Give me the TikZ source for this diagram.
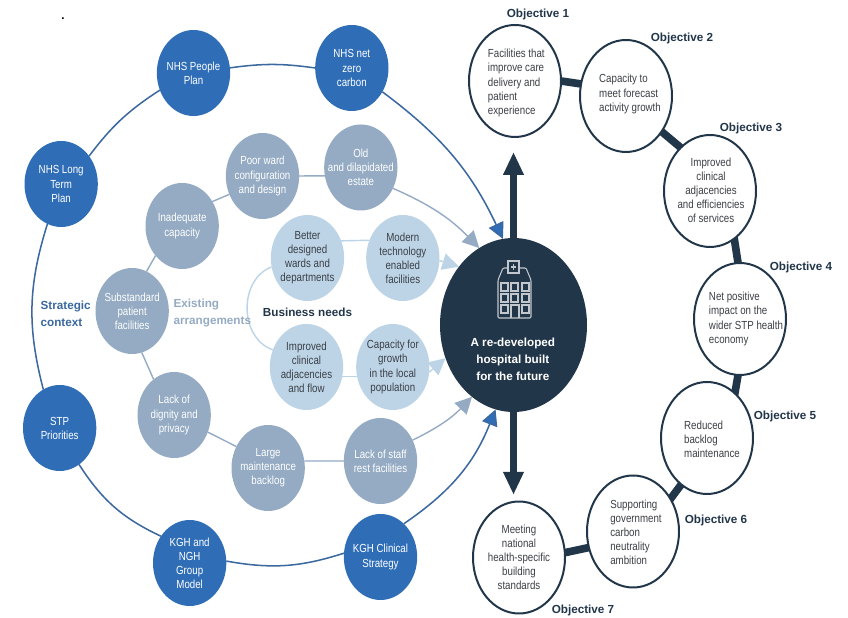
\documentclass[tikz,border=0pt]{standalone}
\usepackage{fontspec}
\setmainfont{Liberation Sans}
\newfontfamily\narrowfont[FakeStretch=0.83]{Liberation Sans}
\usepackage{xcolor}
\usetikzlibrary{shapes.geometric, arrows.meta, positioning, backgrounds}
\definecolor{contextblue}{HTML}{2F6EB7}
\definecolor{existgrey}{HTML}{94ABC3}
\definecolor{needlight}{HTML}{BDD4E7}
\definecolor{hubnavy}{HTML}{22364A}
\definecolor{ringblue}{HTML}{3A689F}
\definecolor{bodytext}{HTML}{3A3F45}
\tikzset{
    ball/.style={
        ellipse,
        minimum width=2.2cm,
        minimum height=2.58cm,
        inner sep=-12pt,
        outer sep=0pt,
        align=center,
        font=\narrowfont\fontsize{10}{12}\selectfont
    },
    contextball/.style={
        ball,
        fill=contextblue,
        text=white
    },
    existball/.style={
        ball,
        fill=existgrey,
        text=white
    },
    needball/.style={
        ball,
        fill=needlight,
        text=bodytext
    },
    hubball/.style={
        ellipse,
        fill=hubnavy,
        outer sep=0pt,
        minimum width=4.41cm,
        minimum height=5.22cm
    },
    objball/.style={
        ellipse,
        draw=hubnavy,
        line width=1.7pt,
        outer sep=0pt,
        fill=white,
        minimum width=2.76cm,
        minimum height=3.36cm
    },
    objtext/.style={
        align=left,
        inner sep=0pt,
        text=bodytext,
        font=\narrowfont\fontsize{10}{12}\selectfont
    },
    objlabel/.style={
        inner sep=0pt,
        text=hubnavy,
        font=\fontsize{10}{12}\selectfont\bfseries
    },
    headtext/.style={
        inner sep=0pt,
        align=left,
        font=\fontsize{10}{14.4}\selectfont\bfseries
    },
    contextwire/.style={
        draw=ringblue,
        line width=1.3pt
    },
    existwire/.style={
        draw=existgrey,
        line width=1.2pt
    },
    needwire/.style={
        draw=needlight,
        line width=1.2pt
    },
    contextarrow/.style={
        contextwire,
        -{Triangle[length=0.48cm,width=0.48cm,fill=contextblue]}
    },
    existarrow/.style={
        existwire,
        -{Triangle[length=0.5cm,width=0.5cm]}
    },
    needarrow/.style={
        needwire,
        -{Triangle[length=0.5cm,width=0.5cm]}
    },
    objlink/.style={
        draw=hubnavy,
        line width=0.23cm,
        shorten <=-3pt,
        shorten >=-3pt
    },
    hubarrow/.style={
        draw=hubnavy,
        line width=0.21cm,
        -{Triangle[length=0.69cm,width=0.58cm]}
    },
    iconline/.style={
        draw=white!72!hubnavy,
        line width=0.9pt
    }
}

\begin{document}
\begin{tikzpicture}
\useasboundingbox (0,0) rectangle (25.44,18.54);

\node[font=\fontsize{10}{12}\selectfont\bfseries, anchor=base] (speck) at (1.89,17.94) {.};

% Hub
\node[hubball] (hub) at (15.405,8.79) {};
\node[headtext, align=center, text=white, xshift=-0.02cm, yshift=-1.02cm] (hubtext) at (hub) {A re-developed\\hospital built\\for the future};

% Strategic context ring
\node[contextball, left=1.545cm of hub, yshift=7.71cm] (netzero) {NHS net\\zero\\carbon};
\node[contextball, left=2.55cm of netzero, yshift=-0.15cm] (people) {NHS People\\Plan};
\node[contextball, left=1.77cm of people, yshift=-3.33cm] (longterm) {NHS Long\\Term\\Plan};
\node[contextball, below=4.74cm of longterm, xshift=-0.045cm] (stp) {STP\\Priorities};
\node[contextball, below=1.47cm of stp, xshift=3.9cm] (group) {KGH and\\NGH\\Group\\Model};
\node[contextball, right=3.525cm of group, yshift=0.18cm] (clinical) {KGH Clinical\\Strategy};

\draw[contextwire] (longterm.45) to[bend left=10] (people.207);
\draw[contextwire] (people.8) to[bend left=8] (netzero.180);
\draw[contextwire] (longterm.251) to[bend right=16] (stp.113);
\draw[contextwire] (stp.-62) to[bend right=16] (group.137);
\draw[contextwire] (group.3) to[bend right=14] (clinical.174);
\draw[contextarrow] (netzero.-38) to[bend left=14] (hub.97);
\draw[contextarrow] (clinical.55) to[bend right=17] (hub.-102);

% Existing arrangements ring
\node[existball, below=0.405cm of netzero, xshift=0.27cm] (estate) {Old\\and dilapidated\\estate};
\node[existball, left=0.75cm of estate, yshift=-0.255cm] (ward) {Poor ward\\configuration\\and design};
\node[existball, left=0.21cm of ward, yshift=-1.5cm] (inadequate) {Inadequate\\capacity};
\node[existball, below=-0.03cm of inadequate, xshift=-1.5cm] (substandard) {Substandard\\patient\\facilities};
\node[existball, below=0.54cm of substandard, xshift=1.26cm] (dignity) {Lack of\\dignity and\\privacy};
\node[existball, below=-0.99cm of dignity, xshift=2.82cm] (backlog) {Large\\maintenance\\backlog};
\node[existball, right=1.17cm of backlog, yshift=0.21cm] (staffrest) {Lack of staff\\rest facilities};

\draw[existwire] (substandard.70) -- (inadequate.228);
\draw[existwire] (inadequate.39) -- (ward.209);
\draw[existwire] (ward.east) -- (estate.193);
\draw[existwire] (substandard.-77) -- (dignity.120);
\draw[existwire] (dignity.-27) -- (backlog.146);
\draw[existwire] (backlog.11) -- (staffrest.180);
\draw[existarrow] (estate.-33) to[bend left=11] (hub.114);
\draw[existarrow] (staffrest.33) to[bend right=10] (hub.240);

% Business needs ring
\node[needball, below=-0.12cm of ward, xshift=1.35cm] (wards) {Better\\designed\\wards and\\departments};
\node[needball, right=0.66cm of wards] (technology) {Modern\\technology\\enabled\\facilities};
\node[needball, below=0.69cm of wards, xshift=-0.03cm] (adjacency) {Improved\\clinical\\adjacencies\\and flow};
\node[needball, right=0.39cm of adjacency] (growth) {Capacity for\\growth\\in the local\\population};

\draw[needwire] (wards.27) -- (technology.152);
\draw[needwire] (wards.194) to[bend right=70, looseness=1.1] (adjacency.153);
\draw[needwire] (adjacency.-15) -- (growth.195);
\draw[needarrow] (technology.-4) -- (hub.133);
\draw[needarrow] (growth.-8) -- (hub.206);

% Ring headings
\node[headtext, text=ringblue, left=0.135cm of substandard, yshift=-0.09cm] (strategic) {Strategic\\context};
\node[headtext, text=existgrey, right=0.135cm of substandard, yshift=-0.06cm] (existing) {Existing\\arrangements};
\node[headtext, text=hubnavy, below=0.195cm of wards] (business) {Business needs};

% Objectives
\node[objball, above=3.03cm of hub, xshift=0.045cm] (obj1) {};
\node[objball, right=0.57cm of obj1, yshift=-0.45cm] (obj2) {};
\node[objball, below=-0.51cm of obj2, xshift=2.52cm] (obj3) {};
\node[objball, below=0.48cm of obj3, xshift=0.9cm] (obj4) {};
\node[objball, below=0.21cm of obj4, xshift=-0.99cm] (obj5) {};
\node[objball, below=-0.555cm of obj5, xshift=-2.22cm] (obj6) {};
\node[objball, left=0.66cm of obj6, yshift=-0.78cm] (obj7) {};

\begin{scope}[on background layer]
\draw[objlink] (obj1.east) -- (obj2.165);
\draw[objlink] (obj2.-45) -- (obj3.124);
\draw[objlink] (obj3.-63) -- (obj4.92);
\draw[objlink] (obj4.-92) -- (obj5.58);
\draw[objlink] (obj5.241) -- (obj6.41);
\draw[objlink] (obj6.200) -- (obj7.6);
\end{scope}

\node[objtext, xshift=0.04cm, yshift=-0.06cm] (text1) at (obj1) {Facilities that\\improve care\\delivery and\\patient\\experience};
\node[objtext, xshift=0.12cm, yshift=0.06cm] (text2) at (obj2) {Capacity to\\meet forecast\\activity growth};
\node[objtext, align=center, xshift=0.03cm, yshift=0.03cm] (text3) at (obj3) {Improved\\clinical\\adjacencies\\and efficiencies\\of services};
\node[objtext, xshift=0.18cm] (text4) at (obj4) {Net positive\\impact on the\\wider STP health\\economy};
\node[objtext, xshift=0.15cm, yshift=-0.045cm] (text5) at (obj5) {Reduced\\backlog\\maintenance};
\node[objtext, xshift=0.09cm, yshift=-0.03cm] (text6) at (obj6) {Supporting\\government\\carbon\\neutrality\\ambition};
\node[objtext, align=center] (text7) at (obj7) {Meeting\\national\\health-specific\\building\\standards};

\node[objlabel, xshift=0.69cm, yshift=2.01cm] (label1) at (obj1) {Objective 1};
\node[objlabel, xshift=1.68cm, yshift=1.74cm] (label2) at (obj2) {Objective 2};
\node[objlabel, xshift=1.23cm, yshift=1.89cm] (label3) at (obj3) {Objective 3};
\node[objlabel, xshift=1.83cm, yshift=1.56cm] (label4) at (obj4) {Objective 4};
\node[objlabel, xshift=2.34cm, yshift=0.66cm] (label5) at (obj5) {Objective 5};
\node[objlabel, xshift=2.49cm, yshift=0.345cm] (label6) at (obj6) {Objective 6};
\node[objlabel, xshift=1.92cm, yshift=-1.575cm] (label7) at (obj7) {Objective 7};

% Hub arrows
\draw[hubarrow, shorten >=0.45cm] (hub.north) -- (hub.north |- obj1.south);
\draw[hubarrow, shorten >=0.2cm] (hub.south) -- (hub.south |- obj7.north);

% Hospital icon
\begin{scope}[shift={(hub.center)}, x=0.3mm, y=-0.3mm]
\draw[iconline, rounded corners=1pt] (-5.5,-57) -- (-10.5,-57) -- (-15.5,-45) -- (-15.5,-7) -- (17.5,-7) -- (17.5,-45) -- (12.5,-57) -- (5.5,-57);
\draw[iconline] (-5.5,-64) rectangle (5.5,-52);
\draw[iconline] (-2.5,-58) -- (2.5,-58) (0,-61) -- (0,-55);
\foreach \wx/\wy in {-12.5/-42,-2.5/-42,8.5/-42,-12.5/-31,-2.5/-31,8.5/-31,-12.5/-20,8.5/-20}
    \draw[iconline] (\wx,\wy) rectangle ++(7,8);
\draw[iconline] (-2.5,-7) -- (-2.5,-20) -- (5.5,-20) -- (5.5,-7);
\end{scope}

\end{tikzpicture}
\end{document}
